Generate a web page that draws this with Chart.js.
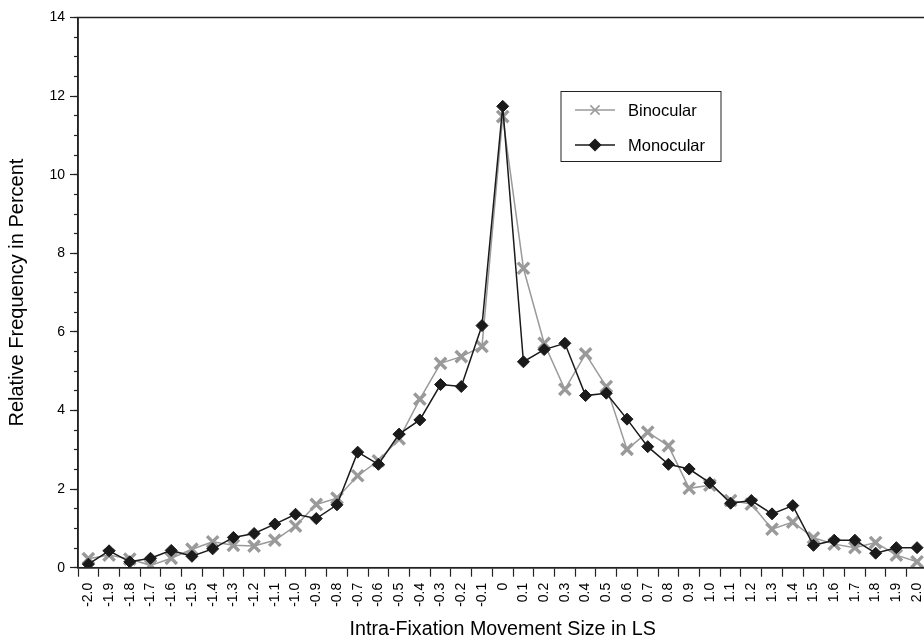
<!DOCTYPE html>
<html>
<head>
<meta charset="utf-8">
<script src="https://cdn.jsdelivr.net/npm/chart.js@4/dist/chart.umd.min.js"></script>
<style>
  html, body { margin: 0; padding: 0; background: #fff; overflow: hidden; }
  #wrap { width: 924px; height: 641px; overflow: hidden; }
  canvas { display: block; }
</style>
</head>
<body>
<div id="wrap"><canvas id="chart" width="940" height="641"></canvas></div>
<script>
/* ─── Data ───────────────────────────────────────────────────────────────── */
const categories = [
  '-2.0', '-1.9', '-1.8', '-1.7', '-1.6', '-1.5', '-1.4', '-1.3', '-1.2', '-1.1',
  '-1.0', '-0.9', '-0.8', '-0.7', '-0.6', '-0.5', '-0.4', '-0.3', '-0.2', '-0.1',
  '0',
  '0.1', '0.2', '0.3', '0.4', '0.5', '0.6', '0.7', '0.8', '0.9', '1.0',
  '1.1', '1.2', '1.3', '1.4', '1.5', '1.6', '1.7', '1.8', '1.9', '2.0'
];

const binocular = [
  0.23, 0.32, 0.22, 0.06, 0.24, 0.47, 0.66, 0.57, 0.55, 0.70,
  1.06, 1.61, 1.77, 2.34, 2.72, 3.28, 4.29, 5.20, 5.37, 5.63,
  11.48,
  7.62, 5.71, 4.54, 5.44, 4.61, 3.01, 3.45, 3.10, 2.02, 2.10,
  1.71, 1.62, 0.98, 1.16, 0.76, 0.60, 0.51, 0.64, 0.32, 0.15
];

const monocular = [
  0.09, 0.43, 0.15, 0.24, 0.44, 0.29, 0.48, 0.77, 0.87, 1.11,
  1.36, 1.25, 1.60, 2.94, 2.63, 3.40, 3.76, 4.66, 4.61, 6.16,
  11.74,
  5.24, 5.55, 5.71, 4.38, 4.44, 3.78, 3.08, 2.63, 2.51, 2.16,
  1.64, 1.71, 1.37, 1.58, 0.57, 0.70, 0.70, 0.37, 0.51, 0.51
];

const yMin = 0, yMax = 14;

/* ─── Styles ─────────────────────────────────────────────────────────────── */
const FONT   = "'Liberation Sans', Arial, sans-serif";
const INK    = '#1a1a1a';
const GREY   = '#9a9a9a';
const AXIS   = '#222';

/* frame round the plot area */
const framePlugin = {
  id: 'frame',
  afterDatasetsDraw(chart) {
    const { ctx, chartArea: a } = chart;
    ctx.save();
    ctx.strokeStyle = AXIS;
    ctx.lineWidth = 1.5;
    ctx.strokeRect(a.left, a.top, a.right - a.left, a.bottom - a.top);
    ctx.restore();
  }
};

/* legend box with line + marker samples */
const legendBox = {
  id: 'legendBox',
  afterDraw(chart) {
    const { ctx, chartArea: a } = chart;
    const x0 = a.left + 483, y0 = a.top + 74;
    const w = 160, h = 70;
    ctx.save();
    ctx.fillStyle = '#fff';
    ctx.fillRect(x0, y0, w, h);
    ctx.strokeStyle = AXIS;
    ctx.lineWidth = 1;
    ctx.strokeRect(x0, y0, w, h);

    const rows = [
      { ds: chart.data.datasets[0], y: y0 + 18.5, r: 6.5, bw: 3 },
      { ds: chart.data.datasets[1], y: y0 + 53.5, r: 5.5, bw: 1 }
    ];
    rows.forEach(({ ds, y, r, bw }) => {
      ctx.strokeStyle = ds.borderColor;
      ctx.lineWidth = 1.5;
      ctx.beginPath();
      ctx.moveTo(x0 + 14, y);
      ctx.lineTo(x0 + 54, y);
      ctx.stroke();
      ctx.fillStyle = ds.pointBackgroundColor;
      ctx.strokeStyle = ds.pointBorderColor;
      Chart.helpers.drawPoint(ctx, { pointStyle: ds.pointStyle, radius: r, borderWidth: bw, rotation: 0 }, x0 + 34, y);
      ctx.fillStyle = '#000';
      ctx.font = `16.5px ${FONT}`;
      ctx.textBaseline = 'middle';
      ctx.textAlign = 'left';
      ctx.fillText(ds.label, x0 + 67, y + 1);
    });
    ctx.restore();
  }
};

/* ─── Chart ──────────────────────────────────────────────────────────────── */
new Chart(document.getElementById('chart'), {
  type: 'line',
  data: {
    labels: categories,
    datasets: [
      {
        label: 'Binocular',
        data: binocular,
        order: 2,
        borderColor: GREY,
        borderWidth: 1.5,
        pointStyle: 'crossRot',
        pointRadius: 8,
        pointBorderWidth: 3.4,
        pointBorderColor: GREY,
        pointBackgroundColor: GREY,
        tension: 0
      },
      {
        label: 'Monocular',
        data: monocular,
        order: 1,
        borderColor: INK,
        borderWidth: 1.5,
        pointStyle: 'rectRot',
        pointRadius: 6,
        pointBorderWidth: 1,
        pointBorderColor: INK,
        pointBackgroundColor: INK,
        tension: 0
      }
    ]
  },
  options: {
    responsive: false,
    animation: false,
    layout: { padding: { top: 17.5, right: 10.5, bottom: 0, left: 0 } },
    plugins: {
      legend: { display: false },
      tooltip: { enabled: false }
    },
    scales: {
      x: {
        type: 'category',
        offset: true,
        afterFit: s => { s.height = 73.3; },
        grid: { offset: true, drawOnChartArea: false, tickLength: 9, tickColor: AXIS, tickWidth: 1.2 },
        border: { display: true, color: AXIS, width: 1.5 },
        ticks: {
          autoSkip: false, maxRotation: 90, minRotation: 90, padding: 6,
          color: '#000', font: { family: FONT, size: 14 }
        },
        title: {
          display: true, text: 'Intra-Fixation Movement Size in LS',
          color: '#000', font: { family: FONT, size: 19.7 }, padding: { top: 0, bottom: 0 }
        }
      },
      yMinor: {
        position: 'left',
        weight: 0,
        min: yMin, max: yMax,
        afterFit: s => { s.width = 0; },
        grid: { drawOnChartArea: false, tickLength: 4, tickColor: AXIS, tickWidth: 1.2 },
        border: { display: false },
        ticks: { display: false, stepSize: 0.5 }
      },
      y: {
        position: 'left',
        weight: 1,
        min: yMin, max: yMax,
        afterFit: s => { s.width = 78; },
        grid: { drawOnChartArea: false, tickLength: 8, tickColor: AXIS, tickWidth: 1.2 },
        border: { display: true, color: AXIS, width: 1.5 },
        ticks: {
          stepSize: 2, padding: 5,
          color: '#000', font: { family: FONT, size: 14 }
        },
        title: {
          display: true, text: 'Relative Frequency in Percent',
          color: '#000', font: { family: FONT, size: 20 }, padding: { top: 5, bottom: 0 }
        }
      }
    }
  },
  plugins: [framePlugin, legendBox]
});
</script>
</body>
</html>
